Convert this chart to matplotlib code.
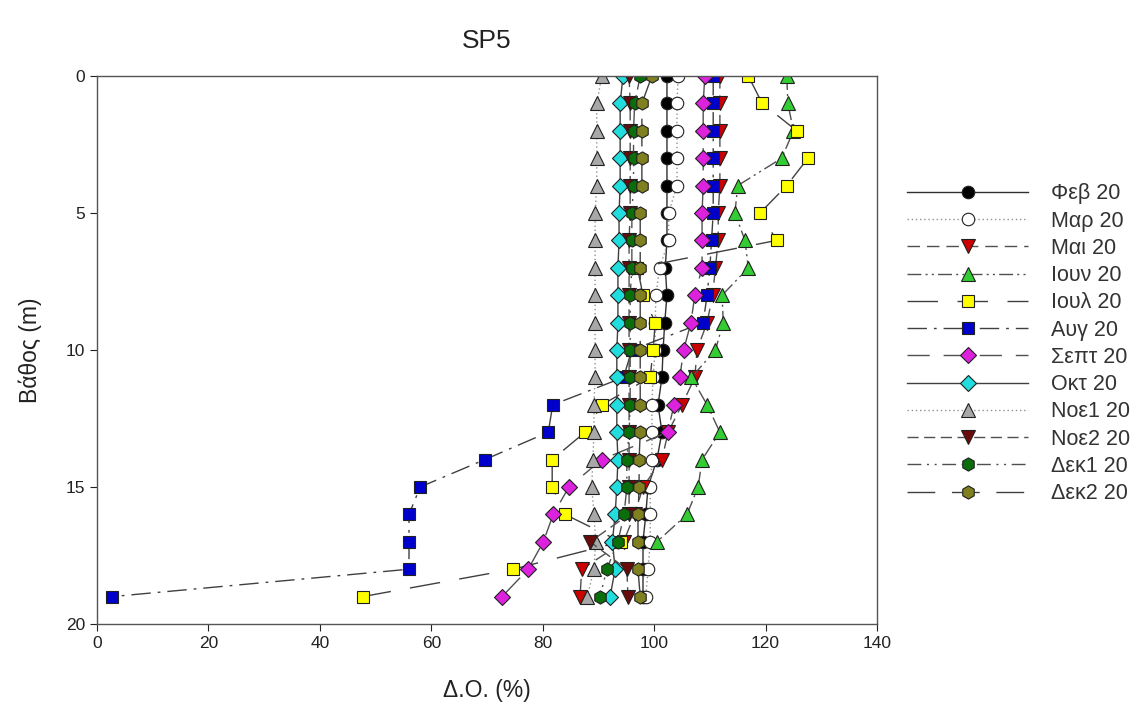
import numpy as np
import matplotlib
matplotlib.use('Agg')
import matplotlib.pyplot as plt

plt.rcParams['font.family'] = ['Liberation Sans', 'DejaVu Sans']

nan = np.nan
depth = list(range(20))

feb = [102.3, 102.3, 102.3, 102.3, 102.3, 102.3, 102.3, 102.0, 102.3, 101.9,
       101.6, 101.4, 100.7, 101.4, 100.5, 98.9, 98.5, 98.0, 98.0, 98.0]
mar = [104.3, 104.1, 104.1, 104.1, 104.1, 102.6, 102.6, 101.0, 100.3, 100.2,
       100.2, 99.8, 99.6, 99.6, 99.6, 99.3, 99.3, 99.3, 98.9, 98.5]
mai = [111.8, 111.8, 111.8, 111.8, 111.8, 111.5, 111.5, 111.0, 110.5, 109.5,
       107.7, 107.3, 105.0, 102.5, 101.4, 98.0, 96.5, 94.5, 87.0, 86.7]
iouv = [123.8, 124.0, 125.0, 122.9, 115.0, 114.5, 116.3, 116.9, 112.2, 112.4,
        111.0, 106.7, 109.5, 111.8, 108.6, 107.9, 105.9, 100.5, nan, nan]
ioul = [116.9, 119.4, 125.6, 127.6, 123.8, 119.0, 122.0, 97.0, 98.0, 100.2,
        99.8, 99.3, 90.6, 87.6, 81.7, 81.7, 84.0, 94.0, 74.7, 47.7]
avg = [110.6, 110.6, 110.6, 110.6, 110.6, 110.6, 110.3, 110.0, 109.5, 108.8,
       96.0, 94.5, 81.8, 81.0, 69.6, 58.0, 56.0, 56.0, 56.0, 2.7]
sept = [109.1, 108.8, 108.8, 108.8, 108.8, 108.6, 108.6, 108.6, 107.3, 106.6,
        105.3, 104.6, 103.6, 102.4, 90.6, 84.7, 81.9, 80.1, 77.4, 72.7]
okt = [94.4, 93.9, 93.9, 93.9, 93.9, 93.7, 93.7, 93.5, 93.5, 93.5,
       93.3, 93.3, 93.3, 93.3, 93.5, 93.3, 93.0, 92.5, 93.0, 92.1]
noe1 = [90.6, 89.7, 89.7, 89.7, 89.7, 89.4, 89.4, 89.4, 89.4, 89.4,
        89.4, 89.4, 89.2, 89.2, 89.0, 88.8, 89.2, 89.5, 89.2, 88.0]
noe2 = [95.5, 95.7, 95.7, 95.7, 95.7, 95.7, 95.5, 95.5, 95.5, 95.5,
        95.5, 95.5, 95.5, 95.5, 95.5, 95.5, 95.5, 88.5, 95.1, 95.3]
dek1 = [97.5, 96.5, 96.3, 96.3, 96.3, 96.0, 96.0, 96.0, 95.7, 95.7,
        95.7, 95.7, 95.7, 95.5, 95.1, 95.1, 94.6, 93.5, 91.5, 90.3]
dek2 = [99.6, 97.8, 97.8, 97.8, 97.8, 97.5, 97.5, 97.5, 97.5, 97.5,
        97.5, 97.5, 97.5, 97.5, 97.3, 97.3, 97.1, 97.1, 97.1, 97.5]

labels = ['Φεβ 20', 'Μαρ 20', 'Μαι 20', 'Ιουν 20', 'Ιουλ 20', 'Αυγ 20',
          'Σεπτ 20', 'Οκτ 20', 'Νοε1 20', 'Νοε2 20', 'Δεκ1 20', 'Δεκ2 20']
series = [feb, mar, mai, iouv, ioul, avg, sept, okt, noe1, noe2, dek1, dek2]

# marker, face colour, line style, line colour
styles = [
    ('o', '#000000', '-', '#303030'),
    ('o', '#ffffff', (0, (1, 2)), '#909090'),
    ('v', '#cc0000', (0, (9, 5)), '#505050'),
    ('^', '#33cc33', (0, (10, 3, 1.5, 3, 1.5, 3)), '#505050'),
    ('s', '#ffff00', (0, (22, 14)), '#404040'),
    ('s', '#0000cc', (0, (14, 5, 2, 5)), '#404040'),
    ('D', '#dd22dd', (0, (16, 10)), '#505050'),
    ('D', '#22dddd', '-', '#404040'),
    ('^', '#a8a8a8', (0, (1, 2)), '#909090'),
    ('v', '#6a0a0a', (0, (8, 4)), '#505050'),
    ('h', '#0a6e0a', (0, (10, 4, 1.5, 4, 1.5, 4)), '#505050'),
    ('h', '#808020', (0, (20, 12)), '#404040'),
]
sizes = {'o': 9, 'h': 9.5, 'v': 9.5, '^': 9.5, 's': 8.5, 'D': 8}

fig = plt.figure(figsize=(11.35, 7.19), dpi=100)
ax = fig.add_axes([97 / 1135, 1 - 624 / 719, 780 / 1135, 548 / 719])

for vals, lab, (mk, fc, ls, lc) in zip(series, labels, styles):
    ax.plot(vals, depth, linestyle=ls, color=lc, lw=1.0, marker=mk,
            markersize=sizes[mk], markerfacecolor=fc, markeredgecolor='#202020',
            markeredgewidth=0.8, label=lab)

ax.set_xlim(0, 140)
ax.set_ylim(20, 0)
ax.set_xticks(range(0, 141, 20))
ax.set_yticks(range(0, 21, 5))
ax.tick_params(labelsize=12.5, colors='#222222', direction='out', length=5)
for s in ax.spines.values():
    s.set_color('#555555')
    s.set_linewidth(1.0)

ax.set_xlabel('Δ.Ο. (%)', fontsize=16.5, color='#222222', labelpad=20)
ax.set_ylabel('Βάθος (m)', fontsize=16.5, color='#222222', labelpad=17)
ax.set_title('SP5', fontsize=19, color='#222222', pad=20)

fig.legend(loc='upper left', bbox_to_anchor=(888 / 1135, 1 - 164 / 719),
           frameon=False, fontsize=15.5, handlelength=5.6, handletextpad=1.05,
           labelspacing=0.29, numpoints=1, labelcolor='#333333')

fig.savefig('out.png', dpi=100)
